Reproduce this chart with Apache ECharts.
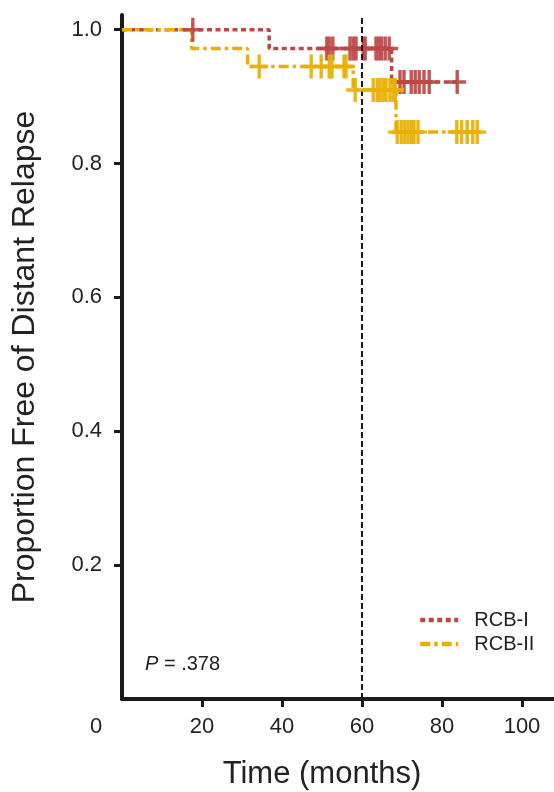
<!DOCTYPE html>
<html>
<head>
<meta charset="utf-8">
<script src="https://cdn.jsdelivr.net/npm/echarts@6/dist/echarts.min.js"></script>
<style>
  html, body { margin: 0; padding: 0; background: #fff; }
  #chart { width: 554px; height: 792px; }
</style>
</head>
<body>
<div id="chart"></div>
<script>
// Kaplan-Meier step points (time in months, proportion free of distant relapse)
const rcb1Times = [0, 36.8, 67.4, 84];
const rcb1Surv  = [1.0, 0.972, 0.922, 0.922];
const rcb2Times = [0, 17.4, 31.4, 57.8, 68.5, 89];
const rcb2Surv  = [1.0, 0.972, 0.945, 0.91, 0.847, 0.847];

// Censoring times
const rcb1Censored = [17.7, 51.2, 51.8, 52.7, 57, 57.8, 58.5, 60.3, 60.8, 63.5, 64.2, 64.9, 65.8, 66.8,
                      69.5, 70.5, 72.3, 73.3, 74.3, 75.5, 76.8, 83.8];
const rcb2Censored = [34.3, 47.3, 49.8, 51.8, 52.5, 55.5, 56,
                      58.3, 62.8, 63.8, 64.5, 65.3, 66, 67, 67.8, 68.3,
                      68.8, 69.8, 70.7, 71.5, 72.3, 73, 74, 83.7, 84.9, 86.3, 87.7, 88.8];

const seriesNames = ['RCB-I', 'RCB-II'];
const xTicks = [20, 40, 60, 80, 100];
const xLabels = [0, 20, 40, 60, 80, 100];
const yTicks = [0.2, 0.4, 0.6, 0.8, 1.0];
const landmarkMonth = 60;
const pValueText = '.378';

const RED = '#bc4845';
const YELLOW = '#e8b000';
const FONT = 'Liberation Sans, Arial, Helvetica, sans-serif';

// survival level of a step curve at time t
function levelAt(times, surv, t) {
  let v = surv[0];
  for (let i = 0; i < times.length; i++) if (times[i] <= t) v = surv[i];
  return v;
}
const pairs = (xs, ys) => xs.map((x, i) => [x, ys[i]]);
const censorPoints = (cs, times, surv) => cs.map(t => [t, levelAt(times, surv, t)]);

// "+" censor mark
const plusPath = 'path://M-1.7,-12H1.7V-1.7H9V1.7H1.7V12H-1.7V1.7H-9V-1.7H-1.7Z';

const chart = echarts.init(document.getElementById('chart'), null, { renderer: 'canvas' });

chart.setOption({
  animation: false,
  backgroundColor: '#ffffff',
  grid: { left: 122, right: 0, top: 15, bottom: 93, containLabel: false, outerBoundsMode: 'none' },
  legend: {
    data: seriesNames,
    orient: 'vertical',
    left: 413,
    top: 605,
    padding: 5,
    itemWidth: 38,
    itemHeight: 10,
    itemGap: 4,
    itemStyle: { opacity: 0 },
    lineStyle: { width: 4.5 },
    textStyle: { fontFamily: FONT, fontSize: 20, color: '#222', padding: [0, 0, 0, 11] }
  },
  xAxis: {
    type: 'value',
    min: 0,
    max: 108,
    name: 'Time (months)',
    nameLocation: 'middle',
    nameGap: 60,
    nameTextStyle: { fontFamily: FONT, fontSize: 31, color: '#222', padding: [0, 32, 0, 0] },
    axisLine: { onZero: false, lineStyle: { color: '#1a1a1a', width: 4 } },
    axisTick: { show: true, customValues: xTicks, length: 8, lineStyle: { color: '#1a1a1a', width: 3 } },
    axisLabel: {
      customValues: xLabels,
      margin: 17,
      fontFamily: FONT,
      fontSize: 22,
      color: '#222',
      formatter: v => v === 0 ? '{z|0}' : String(v),
      rich: { z: { fontFamily: FONT, fontSize: 22, color: '#222', padding: [0, 52, 0, 0] } }
    },
    splitLine: { show: false }
  },
  yAxis: {
    type: 'value',
    min: 0,
    max: 1.022,
    name: 'Proportion Free of Distant Relapse',
    nameLocation: 'middle',
    nameGap: 81,
    nameTextStyle: { fontFamily: FONT, fontSize: 32, color: '#222' },
    axisLine: { onZero: false, lineStyle: { color: '#1a1a1a', width: 4 } },
    axisTick: { show: true, customValues: yTicks, length: 8, lineStyle: { color: '#1a1a1a', width: 3 } },
    axisLabel: {
      customValues: yTicks,
      margin: 20,
      fontFamily: FONT,
      fontSize: 22,
      color: '#222',
      formatter: v => v.toFixed(1)
    },
    splitLine: { show: false }
  },
  graphic: [{
    type: 'text',
    left: 145,
    top: 654,
    style: {
      text: '{i|P} = ' + pValueText,
      fontFamily: FONT,
      fontSize: 20,
      fill: '#222',
      rich: { i: { fontStyle: 'italic', fontFamily: FONT, fontSize: 20, fill: '#222' } }
    }
  }],
  series: [
    {
      name: seriesNames[0],
      type: 'line',
      step: 'end',
      symbol: 'none',
      color: RED,
      data: pairs(rcb1Times, rcb1Surv),
      lineStyle: { color: RED, width: 3.5, type: [5, 3.5] },
      z: 2,
      markLine: {
        silent: true,
        symbol: 'none',
        label: { show: false },
        lineStyle: { color: '#1a1a1a', width: 2, type: [6, 3] },
        data: [{ xAxis: landmarkMonth }]
      }
    },
    {
      name: seriesNames[1],
      type: 'line',
      step: 'end',
      symbol: 'none',
      color: YELLOW,
      data: pairs(rcb2Times, rcb2Surv),
      lineStyle: { color: YELLOW, width: 3.5, type: [10, 4, 3.5, 4] },
      z: 3
    },
    {
      name: seriesNames[0] + ' censored',
      type: 'scatter',
      symbol: plusPath,
      symbolSize: [18, 24],
      itemStyle: { color: RED, opacity: 0.92 },
      data: censorPoints(rcb1Censored, rcb1Times, rcb1Surv),
      z: 4
    },
    {
      name: seriesNames[1] + ' censored',
      type: 'scatter',
      symbol: plusPath,
      symbolSize: [18, 24],
      itemStyle: { color: YELLOW, opacity: 0.92 },
      data: censorPoints(rcb2Censored, rcb2Times, rcb2Surv),
      z: 5
    }
  ]
});
</script>
</body>
</html>
